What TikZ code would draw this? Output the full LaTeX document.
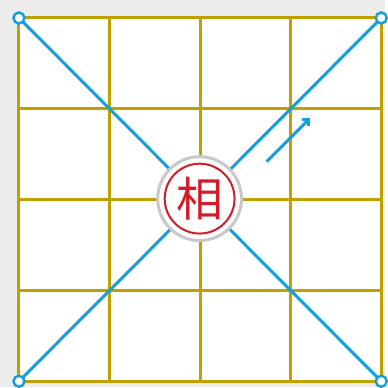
\documentclass[tikz,border=0pt]{standalone}
\usepackage{fontspec}
\newfontfamily\cjk{Noto Sans CJK SC}
\usetikzlibrary{arrows.meta}

\definecolor{boardgold}{RGB}{192,160,0}
\definecolor{pathblue}{RGB}{18,160,226}
\definecolor{piecered}{RGB}{212,28,40}
\definecolor{ringgray}{RGB}{200,200,200}
\definecolor{paper}{RGB}{236,236,236}

\begin{document}
\begin{tikzpicture}[x=1pt, y=-1pt, >={Straight Barb[length=5pt, width=10pt]}]
    \fill[paper] (0,0) rectangle (386,388);

    \coordinate (A) at (19,18);
    \coordinate (B) at (382,18);
    \coordinate (C) at (382,382);
    \coordinate (D) at (19,382);

    \fill[white] (A) rectangle (C);

    \foreach \i in {0,...,4} {
      \draw[boardgold, line width=3pt] ({19+90.75*\i},18) -- ({19+90.75*\i},382);
      \draw[boardgold, line width=3pt] (19,{18+91*\i}) -- (382,{18+91*\i});
    }

    \draw[pathblue, line width=3pt] (A) -- (C);
    \draw[pathblue, line width=3pt] (B) -- (D);

    \foreach \c in {A,B,C,D}
      \draw[pathblue, line width=2.5pt, fill=white] (\c) circle (5.5pt);

    \coordinate (S) at (267,162);
    \coordinate (T) at (311,118);
    \draw[pathblue, line width=3pt, ->] (S) -- (T);

    \node[circle, draw=ringgray, line width=3pt, fill=white,
          minimum size=84pt, inner sep=0pt] (piece) at (200,199) {};
    \node[circle, draw=piecered, line width=2pt, minimum size=70pt,
          inner sep=0pt, text=piecered, font=\cjk\fontsize{47}{47}\selectfont]
          (xiang) at (piece) {相};
\end{tikzpicture}
\end{document}
